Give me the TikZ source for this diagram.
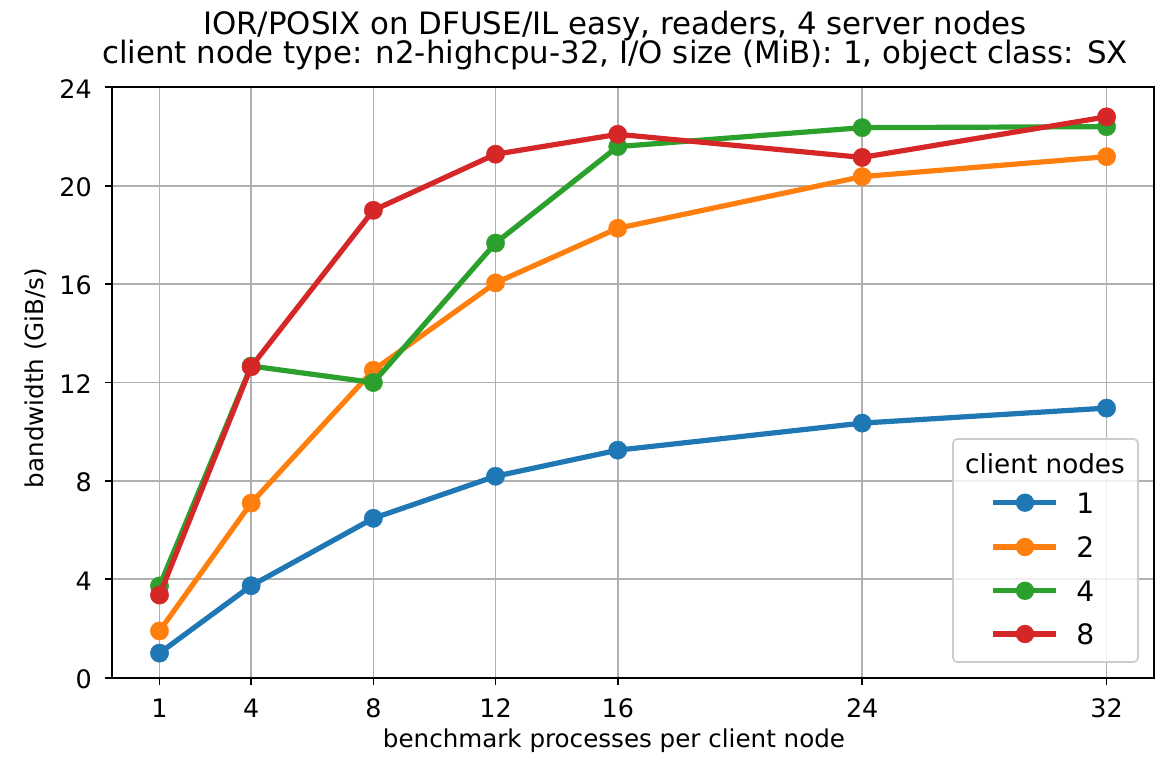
\documentclass[tikz,border=0pt]{standalone}
\usepackage{fontspec}
\setmainfont{DejaVu Sans}
\definecolor{cblue}{HTML}{1F77B4}
\definecolor{corange}{HTML}{FF7F0E}
\definecolor{cgreen}{HTML}{2CA02C}
\definecolor{cred}{HTML}{D62728}
\definecolor{gridgray}{HTML}{B0B0B0}
\definecolor{legedge}{HTML}{CCCCCC}
\tikzset{
  gridline/.style={draw=gridgray, line width=0.8pt},
  spine/.style={draw=black, line width=0.8pt},
  tickmark/.style={draw=black, line width=0.8pt},
  ticklabel/.style={inner sep=0pt, font=\fontsize{12.2pt}{14pt}\selectfont},
  axislabel/.style={inner sep=0pt, font=\fontsize{11.8pt}{14pt}\selectfont},
  titletext/.style={inner sep=0pt, font=\fontsize{14.8pt}{17pt}\selectfont},
  serie/.style={line width=2.5pt, line join=round},
  dots/.style={line width=0.2pt, mark=*, mark size=4.4pt, mark options={fill=#1, draw=#1}},
  legendtitle/.style={inner sep=0pt, font=\fontsize{12.6pt}{15pt}\selectfont},
  legendlabel/.style={inner sep=0pt, font=\fontsize{13.5pt}{16pt}\selectfont},
}
\newcommand{\series}[2]{%
  \draw[serie, #1] plot coordinates {#2};
  \draw[#1, dots=#1] plot[only marks] coordinates {#2};
}
\begin{document}
\begin{tikzpicture}[x=0.48pt, y=-0.48pt]
\useasboundingbox (0,0) rectangle (1170,762);
% ---- data area: x in data units (1..32), y in GiB/s ----
\begin{scope}[shift={(61.9pt,-325.3pt)}, x=14.664pt, y=11.808pt]
  % grid
  \foreach \gx in {1,4,8,12,16,24,32}
    \draw[gridline] (\gx,0) -- (\gx,24);
  \foreach \gy in {0,4,...,24}
    \draw[gridline] (-0.55,\gy) -- (33.55,\gy);
  % series
  \series{cblue}{(1,1.00) (4,3.74) (8,6.48) (12,8.19) (16,9.25) (24,10.35) (32,10.96)}
  \series{corange}{(1,1.90) (4,7.10) (8,12.50) (12,16.05) (16,18.27) (24,20.37) (32,21.18)}
  \series{cgreen}{(1,3.73) (4,12.67) (8,12.00) (12,17.67) (16,21.59) (24,22.36) (32,22.40)}
  \series{cred}{(1,3.36) (4,12.64) (8,19.00) (12,21.28) (16,22.09) (24,21.15) (32,22.80)}
  % axes frame
  \draw[spine] (-0.55,0) rectangle (33.55,24);
  % ticks and tick labels
  \foreach \gx in {1,4,8,12,16,24,32} {
    \draw[tickmark] (\gx,0) -- ++(0,-3.5pt);
    \node[ticklabel, anchor=base] (xt\gx) at ([yshift=-19.1pt]\gx,0) {\gx};
  }
  \foreach \gy in {0,4,...,24} {
    \draw[tickmark] (-0.55,\gy) -- ++(-3.5pt,0);
    \node[ticklabel, anchor=base east] (yt\gy) at ([xshift=-9.6pt, yshift=-5.2pt]-0.55,\gy) {\gy};
  }
\end{scope}
% ---- axis labels and title ----
\node[axislabel, anchor=base] (xlab) at (614,747) {benchmark processes per client node};
\node[axislabel, anchor=base, rotate=90] (ylab) at (43.3,378) {bandwidth (GiB/s)};
\node[titletext, anchor=base] (title1) at (615,35) {IOR/POSIX on DFUSE/IL easy, readers, 4 server nodes};
\node[titletext, anchor=base] (title2) at (615,63.3) {client node type: n2-highcpu-32, I/O size (MiB): 1, object class: SX};
% ---- legend ----
\draw[draw=legedge, line width=0.8pt, fill=white, fill opacity=0.8, rounded corners=2pt] (953,439) rectangle (1138,662);
\node[legendtitle, anchor=base] (legtitle) at (1045,473.3) {client nodes};
\foreach \col/\lab/\ly in {cblue/1/502.7, corange/2/547.0, cgreen/4/590.8, cred/8/634} {
  \coordinate (la\lab) at (993,\ly);
  \coordinate (lb\lab) at (1056,\ly);
  \draw[serie, \col] (la\lab) -- (lb\lab);
  \fill[\col] (1025,\ly) circle[radius=4.4pt];
  \node[legendlabel, anchor=base west] (leg\lab) at (1076,\ly+10.6) {\lab};
}
\end{tikzpicture}
\end{document}
